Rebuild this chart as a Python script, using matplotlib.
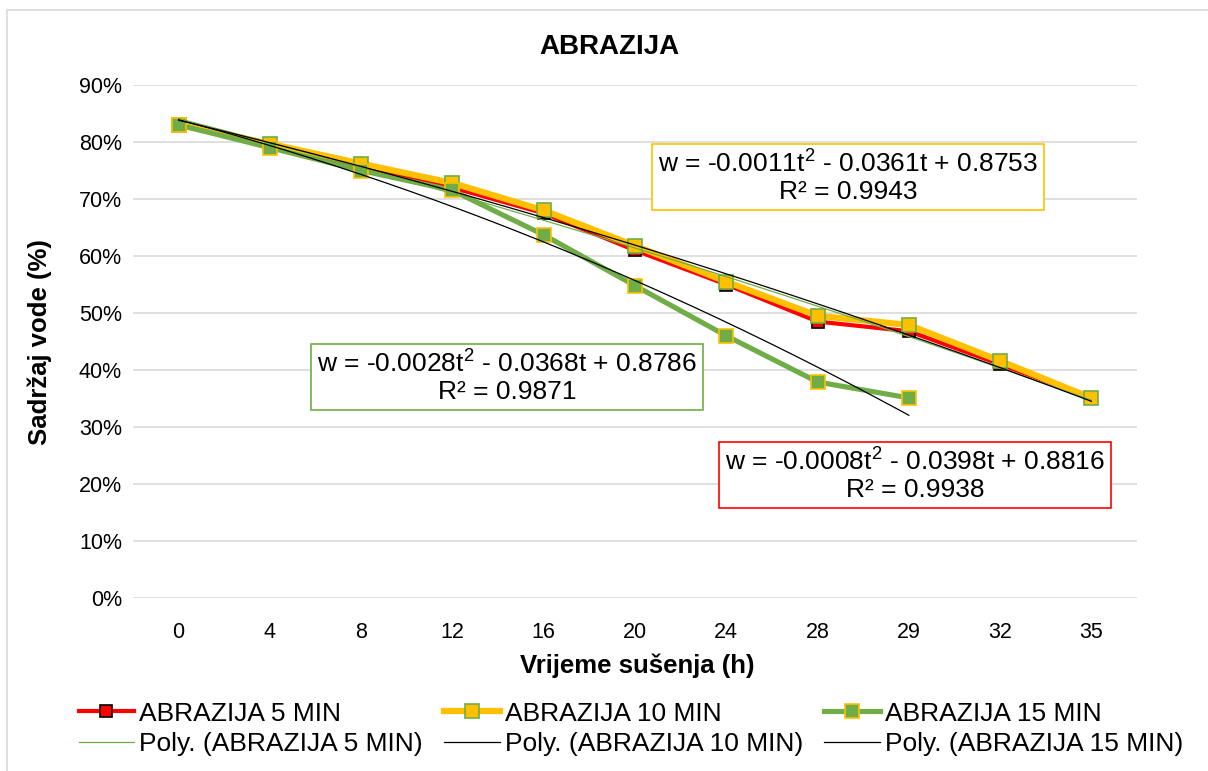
import matplotlib.pyplot as plt
import numpy as np
from matplotlib.patches import Rectangle

# Data
hours = ['0', '4', '8', '12', '16', '20', '24', '28', '29', '32', '35']
abr_5 = [0.83, 0.795, 0.755, 0.72, 0.675, 0.61, 0.55, 0.485, 0.468, 0.41, 0.351]
abr_10 = [0.83, 0.797, 0.762, 0.728, 0.68, 0.618, 0.555, 0.495, 0.479, 0.416, 0.351]
abr_15 = [0.83, 0.79, 0.75, 0.715, 0.637, 0.548, 0.46, 0.379, 0.351]

# Excel trendline coefficients (t = category index 1..n)
poly_5 = [-0.0008, -0.0398, 0.8816]
poly_10 = [-0.0011, -0.0361, 0.8753]
poly_15 = [-0.0028, -0.0368, 0.8786]
r2_5, r2_10, r2_15 = 0.9938, 0.9943, 0.9871

RED = '#FF0000'
YELLOW = '#FFC000'
GREEN = '#70AD47'

plt.rcParams['font.family'] = 'Liberation Sans'
plt.rcParams['mathtext.fontset'] = 'custom'
plt.rcParams['mathtext.rm'] = 'Liberation Sans'
plt.rcParams['mathtext.it'] = 'Liberation Sans'

fig = plt.figure(figsize=(12.08, 7.71), dpi=100)
ax = fig.add_axes([133 / 1208, 1 - 598 / 771, (1137 - 133) / 1208, (598 - 85) / 771])

# chart border
fig.patches.append(Rectangle((7 / 1208, -0.05), 1.1, 1 - 10 / 771 + 0.05, transform=fig.transFigure,
                             fill=False, ec='#D9D9D9', lw=1.2))

x5 = np.arange(1, len(abr_5) + 1)
x10 = np.arange(1, len(abr_10) + 1)
x15 = np.arange(1, len(abr_15) + 1)

l5, = ax.plot(x5, abr_5, color=RED, lw=3, marker='s', ms=9, mfc=RED, mec='black', mew=1.2,
              label='ABRAZIJA 5 MIN', zorder=3)
l10, = ax.plot(x10, abr_10, color=YELLOW, lw=4.5, marker='s', ms=9.5, mfc=YELLOW, mec=GREEN, mew=1.2,
               label='ABRAZIJA 10 MIN', zorder=4)
l15, = ax.plot(x15, abr_15, color=GREEN, lw=3.7, marker='s', ms=9.5, mfc=GREEN, mec=YELLOW, mew=1.2,
               label='ABRAZIJA 15 MIN', zorder=5)

# trendlines
def trend(coef, n):
    t = np.linspace(1, n, 200)
    return t, np.polyval(coef, t)

t, w = trend(poly_5, len(abr_5))
p5, = ax.plot(t, w, color=GREEN, lw=0.9, label='Poly. (ABRAZIJA 5 MIN)', zorder=6)
t, w = trend(poly_10, len(abr_10))
p10, = ax.plot(t, w, color='black', lw=0.9, label='Poly. (ABRAZIJA 10 MIN)', zorder=6)
t, w = trend(poly_15, len(abr_15))
p15, = ax.plot(t, w, color='black', lw=0.9, label='Poly. (ABRAZIJA 15 MIN)', zorder=6)

ax.set_xlim(0.5, len(hours) + 0.5)
ax.set_ylim(0, 0.9)
ax.set_xticks(x5)
ax.set_xticklabels(hours)
yt = np.arange(0, 0.91, 0.1)
ax.set_yticks(yt)
ax.set_yticklabels([f'{round(v * 100)}%' for v in yt])
ax.tick_params(length=0, labelsize=15.5, colors='#000000', pad=8)
ax.tick_params(axis='x', pad=17)
ax.grid(axis='y', color='#D9D9D9', lw=1.2)
ax.set_axisbelow(True)
for s in ax.spines.values():
    s.set_visible(False)

fig.text(609 / 1208, 1 - 47 / 771, 'ABRAZIJA', ha='center', va='center', fontsize=20, fontweight='bold')
fig.text(637 / 1208, 1 - 666 / 771, 'Vrijeme sušenja (h)', ha='center', va='center', fontsize=18.5,
         fontweight='bold')
fig.text(40 / 1208, 1 - 342 / 771, 'Sadržaj vode (%)', ha='center', va='center', rotation=90,
         fontsize=18.5, fontweight='bold')

def eq_text(coef, r2):
    a, b, c = coef
    return (f'w = {a:.4f}t$^{{2}}$ - {abs(b):.4f}t + {c:.4f}\nR² = {r2:.4f}')

box = dict(boxstyle='square,pad=0.22', fc='white', lw=1.2)
fig.text(848 / 1208, 1 - 177 / 771, eq_text(poly_10, r2_10), ha='center', va='center', fontsize=19,
         linespacing=1.15, bbox=dict(box, ec=YELLOW), zorder=10)
fig.text(507 / 1208, 1 - 377 / 771, eq_text(poly_15, r2_15), ha='center', va='center', fontsize=19,
         linespacing=1.15, bbox=dict(box, ec=GREEN), zorder=10)
fig.text(915 / 1208, 1 - 475 / 771, eq_text(poly_5, r2_5), ha='center', va='center', fontsize=19,
         linespacing=1.15, bbox=dict(box, ec=RED), zorder=10)

fig.legend(handles=[l5, p5, l10, p10, l15, p15], ncol=3, loc='center',
           bbox_to_anchor=(631 / 1208, 1 - 729 / 771), frameon=False, fontsize=19,
           handlelength=2.1, handletextpad=0.2, columnspacing=0.8, labelspacing=0.25,
           numpoints=1, borderpad=0, borderaxespad=0)

fig.savefig('out.png', dpi=100)
